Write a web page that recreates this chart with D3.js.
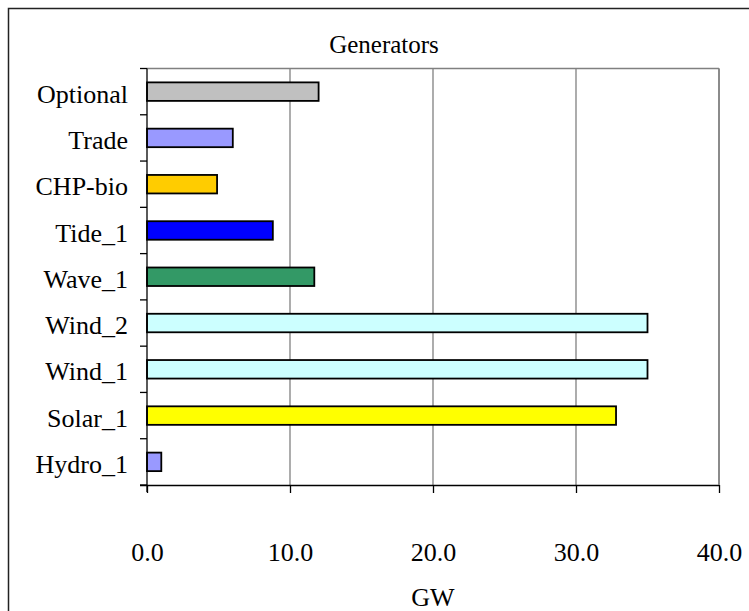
<!DOCTYPE html>
<html>
<head>
<meta charset="utf-8">
<script src="https://cdn.jsdelivr.net/npm/d3@7"></script>
<style>
  html, body { margin: 0; padding: 0; background: #fff; }
  svg { display: block; }
  text { font-family: "Liberation Serif", "Times New Roman", serif; fill: #000; }
</style>
</head>
<body>
<svg id="chart" width="749" height="611"></svg>
<script>
// Generator capacities (GW), listed top to bottom
const categories = ["Optional", "Trade", "CHP-bio", "Tide_1", "Wave_1", "Wind_2", "Wind_1", "Solar_1", "Hydro_1"];
const capacityGW = [12.0, 6.0, 4.9, 8.8, 11.7, 35.0, 35.0, 32.8, 1.0];
const barColors = ["#C0C0C0", "#9999FF", "#FFCC00", "#0000FF", "#339966", "#CCFFFF", "#CCFFFF", "#FFFF00", "#9999FF"];
const xTicks = [0, 10, 20, 30, 40];
const chartTitle = "Generators";
const xAxisTitle = "GW";

const svg = d3.select("#chart");

// Outer chart frame
svg.append("rect")
  .attr("x", 8.5).attr("y", 8.5)
  .attr("width", 760).attr("height", 620)
  .attr("fill", "none").attr("stroke", "#222").attr("stroke-width", 1.5);

const plot = { left: 147, right: 719, top: 68.5, bottom: 485 };

const x = d3.scaleLinear().domain([0, 40]).range([plot.left, plot.right]);
const slot = d3.scaleBand().domain(categories).range([plot.top, plot.bottom]).padding(0);
const y = d3.scaleBand().domain(categories).range([plot.top, plot.bottom])
  .paddingInner(0.6).paddingOuter(0.3);

// Vertical gridlines
svg.append("g").selectAll("line")
  .data(xTicks.filter(t => t > 0))
  .join("line")
  .attr("x1", d => x(d)).attr("x2", d => x(d))
  .attr("y1", plot.top).attr("y2", plot.bottom)
  .attr("stroke", "#808080").attr("stroke-width", 1.3);

// Plot area top edge
svg.append("line")
  .attr("x1", plot.left).attr("x2", plot.right)
  .attr("y1", plot.top).attr("y2", plot.top)
  .attr("stroke", "#808080").attr("stroke-width", 1.5);

// Bars
svg.append("g").selectAll("rect")
  .data(categories)
  .join("rect")
  .attr("x", x(0))
  .attr("y", d => y(d))
  .attr("width", (d, i) => x(capacityGW[i]) - x(0))
  .attr("height", y.bandwidth())
  .attr("fill", (d, i) => barColors[i])
  .attr("stroke", "#000").attr("stroke-width", 1.8);

// Category axis (ticks between categories)
const yAxis = svg.append("g").attr("transform", `translate(${plot.left},0)`);
yAxis.append("line")
  .attr("x1", 0).attr("x2", 0).attr("y1", plot.top).attr("y2", plot.bottom + 7)
  .attr("stroke", "#000").attr("stroke-width", 1.3);
const boundaries = categories.map(c => slot(c)).concat([plot.bottom]);
yAxis.selectAll("line.tick").data(boundaries).join("line")
  .attr("class", "tick")
  .attr("x1", -7).attr("x2", 0)
  .attr("y1", d => d).attr("y2", d => d)
  .attr("stroke", "#000").attr("stroke-width", 1.3);
yAxis.selectAll("text").data(categories).join("text")
  .attr("x", -19)
  .attr("y", d => slot(d) + slot.bandwidth() / 2 + 2)
  .attr("dy", "0.35em")
  .attr("text-anchor", "end")
  .attr("font-size", 26)
  .text(d => d);

// Value axis
const xAxisG = svg.append("g").attr("transform", `translate(0,${plot.bottom})`)
  .call(d3.axisBottom(x).tickValues(xTicks).tickFormat(d3.format(".1f")).tickSize(8).tickPadding(50));
xAxisG.select(".domain").attr("stroke", "#000").attr("stroke-width", 1.3)
  .attr("d", `M${plot.left - 7},0.5H${plot.right}`);
xAxisG.selectAll(".tick line").attr("stroke", "#000").attr("stroke-width", 1.3);
xAxisG.selectAll(".tick text")
  .attr("font-size", 26)
  .attr("font-family", "Liberation Serif, Times New Roman, serif")
  .attr("fill", "#000");

// Right edge of the plot area
svg.append("line")
  .attr("x1", plot.right).attr("x2", plot.right)
  .attr("y1", plot.top).attr("y2", plot.bottom)
  .attr("stroke", "#808080").attr("stroke-width", 1.5);

// Titles
svg.append("text")
  .attr("x", 384).attr("y", 53)
  .attr("text-anchor", "middle")
  .attr("font-size", 25)
  .text(chartTitle);

svg.append("text")
  .attr("x", (plot.left + plot.right) / 2).attr("y", 606)
  .attr("text-anchor", "middle")
  .attr("font-size", 26)
  .text(xAxisTitle);
</script>
</body>
</html>
